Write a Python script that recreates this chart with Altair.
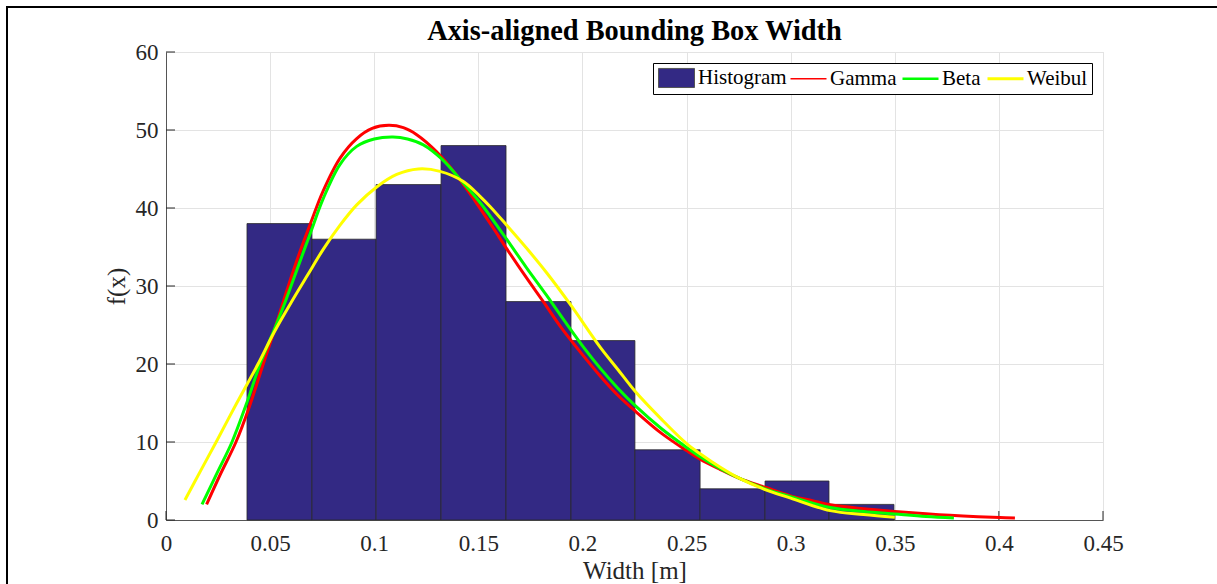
import altair as alt
import pandas as pd

# ---------------- data ----------------
bin_left = [0.0389, 0.0701, 0.1009, 0.1321, 0.1633, 0.1945, 0.2252, 0.2565, 0.2877, 0.3184]
bin_right = [0.0701, 0.1009, 0.1321, 0.1633, 0.1945, 0.2252, 0.2565, 0.2877, 0.3184, 0.3496]
bin_height = [38, 36, 43, 48, 28, 23, 9, 4, 5, 2]

gamma_x = [0.0195, 0.026, 0.0336, 0.040, 0.0467, 0.052, 0.0568, 0.063, 0.0695, 0.0755,
           0.0836, 0.0916, 0.099, 0.107, 0.114, 0.1204, 0.130, 0.1396, 0.1492, 0.157,
           0.1636, 0.173, 0.1812, 0.190, 0.200, 0.2084, 0.217, 0.2256, 0.238, 0.250,
           0.2565, 0.266, 0.2757, 0.2877, 0.300, 0.310, 0.319, 0.335, 0.350, 0.365,
           0.3765, 0.390, 0.4005, 0.4077]
gamma_y = [2.0, 5.8, 10.0, 14.5, 20.0, 24.3, 28.4, 33.4, 38.1, 42.2,
           46.4, 48.9, 50.2, 50.6, 50.3, 49.4, 47.2, 44.2, 40.6, 37.5,
           34.8, 31.1, 28.0, 24.6, 21.2, 18.5, 16.0, 13.9, 11.1, 8.9,
           7.8, 6.5, 5.3, 4.2, 3.1, 2.5, 1.95, 1.45, 1.1, 0.8,
           0.6, 0.43, 0.32, 0.26]

beta_x = [0.0173, 0.0245, 0.0317, 0.0385, 0.0452, 0.052, 0.058, 0.064, 0.0695, 0.0755,
          0.0836, 0.0916, 0.100, 0.109, 0.116, 0.1236, 0.1324, 0.1428, 0.1508, 0.1556,
          0.1636, 0.173, 0.1828, 0.192, 0.2004, 0.2084, 0.217, 0.2256, 0.238, 0.250,
          0.2565, 0.266, 0.2757, 0.2877, 0.300, 0.319, 0.335, 0.350, 0.365, 0.3784]
beta_y = [2.0, 6.0, 10.0, 14.8, 20.0, 24.4, 28.5, 32.9, 36.9, 41.2,
          45.6, 47.9, 48.85, 49.1, 48.85, 48.1, 46.3, 43.2, 40.7, 39.0,
          36.0, 32.4, 28.8, 25.3, 22.2, 19.5, 16.9, 14.6, 11.7, 9.3,
          8.1, 6.6, 5.3, 4.0, 3.0, 1.6, 1.1, 0.77, 0.45, 0.25]

weibull_x = [0.0091, 0.0166, 0.0241, 0.034, 0.0442, 0.052, 0.0608, 0.068, 0.0755, 0.0836,
             0.0916, 0.1012, 0.1108, 0.1212, 0.1316, 0.1428, 0.1508, 0.1556, 0.1636, 0.173,
             0.1828, 0.194, 0.2084, 0.217, 0.2256, 0.238, 0.250, 0.2565, 0.266, 0.2757,
             0.2877, 0.300, 0.319, 0.335, 0.350]
weibull_y = [2.56, 6.3, 10.0, 15.0, 20.0, 24.1, 28.2, 31.4, 34.7, 37.8,
             40.4, 42.7, 44.3, 45.0, 44.7, 43.4, 41.5, 40.2, 37.8, 34.9,
             31.7, 27.7, 22.2, 19.3, 16.4, 12.9, 9.8, 8.5, 6.8, 5.3,
             3.9, 2.8, 1.2, 0.7, 0.35]

x_ticks = [0, 0.05, 0.1, 0.15, 0.2, 0.25, 0.3, 0.35, 0.4, 0.45]
y_ticks = [0, 10, 20, 30, 40, 50, 60]

series_names = ["Histogram", "Gamma", "Beta", "Weibul"]
series_fill = ["#332984", "transparent", "transparent", "transparent"]
series_stroke = ["#555555", "#ff0000", "#00ff00", "#ffff00"]
series_width = [1, 3, 3, 3]
series_shape = ["M-1,-1.06H3V1.06H-1Z", "M-1,0H3", "M-1,0H3", "M-1,0H3"]

title_text = "Axis-aligned Bounding Box Width"
x_title = "Width [m]"
y_title = "f(x)"

# ---------------- chart ----------------
FONT = "Liberation Serif"
W, H = 937, 468

xscale = alt.Scale(domain=[0, 0.45], nice=False, zero=False)
yscale = alt.Scale(domain=[0, 60], nice=False)

x_axis = alt.Axis(values=x_ticks, format="~g", title=x_title, grid=True, ticks=False,
                  tickSize=0, labelPadding=12, labelFont=FONT, labelFontSize=23,
                  labelColor="#262626", titleFont=FONT, titleFontSize=25,
                  titleFontWeight="normal", titleColor="#262626",
                  titleBaseline="alphabetic", titleX=W / 2, titleY=58,
                  titleAlign="center", domainColor="#555555", gridColor="#e3e3e3",
                  labelFlush=False, labelOverlap=False)
y_axis = alt.Axis(values=y_ticks, title=y_title, grid=True, ticks=False, tickSize=0,
                  labelPadding=8, labelFont=FONT, labelFontSize=23,
                  labelColor="#262626", titleFont=FONT, titleFontSize=25,
                  titleFontWeight="normal", titleColor="#262626",
                  titleBaseline="alphabetic", titleX=-42, titleY=H / 2,
                  titleAlign="center", titleAngle=270, domainColor="#555555",
                  gridColor="#e3e3e3", labelFlush=False, labelOverlap=False)

hist_df = pd.DataFrame({"x0": bin_left, "x1": bin_right, "h": bin_height})
ytick_df = pd.DataFrame({"v": y_ticks})
xtick_df = pd.DataFrame({"v": x_ticks})

ytick_layer = alt.Chart(ytick_df).mark_rule(color="#262626", strokeWidth=1).encode(
    y=alt.Y("v:Q", scale=yscale, axis=y_axis),
    x=alt.value(0), x2=alt.value(9))
xtick_layer = alt.Chart(xtick_df).mark_rule(color="#262626", strokeWidth=1).encode(
    x=alt.X("v:Q", scale=xscale, axis=x_axis),
    y=alt.value(H), y2=alt.value(H - 9))

bars = alt.Chart(hist_df).mark_rect(fill="#332984", stroke="#2a2a2a", strokeWidth=0.8).encode(
    x=alt.X("x0:Q", scale=xscale, axis=x_axis),
    x2="x1:Q",
    y=alt.Y("h:Q", scale=yscale, axis=y_axis),
    y2=alt.datum(0),
)

def curve(xs, ys, color):
    df = pd.DataFrame({"x": xs, "y": ys})
    return alt.Chart(df).mark_line(color=color, strokeWidth=3, interpolate="catmull-rom").encode(
        x=alt.X("x:Q", scale=xscale, axis=x_axis),
        y=alt.Y("y:Q", scale=yscale, axis=y_axis),
        order="x:Q",
    )

gamma = curve(gamma_x, gamma_y, "#ff0000")
beta = curve(beta_x, beta_y, "#00ff00")
weibull = curve(weibull_x, weibull_y, "#ffff00")

legend = alt.Legend(orient="top-right", offset=11, direction="horizontal", title=None,
                    labelFont=FONT, labelFontSize=21, labelColor="black",
                    symbolSize=324, labelOffset=20, columnPadding=0, padding=4,
                    strokeColor="black", fillColor="white", symbolOpacity=1)
leg_df = pd.DataFrame({"series": series_names})
leg_layer = alt.Chart(leg_df).mark_point(clip=True, opacity=1).encode(
    x=alt.value(-300), y=alt.value(-300),
    fill=alt.Fill("series:N", scale=alt.Scale(domain=series_names, range=series_fill), legend=legend),
    stroke=alt.Stroke("series:N", scale=alt.Scale(domain=series_names, range=series_stroke), legend=legend),
    shape=alt.Shape("series:N", scale=alt.Scale(domain=series_names, range=series_shape), legend=legend),
    strokeWidth=alt.StrokeWidth("series:N", scale=alt.Scale(domain=series_names, range=series_width), legend=legend),
)

title_layer = alt.Chart(pd.DataFrame({"t": [title_text]})).mark_text(
    font=FONT, fontSize=28.4, fontWeight="bold", color="black", align="center",
    baseline="alphabetic", clip=False).encode(
    x=alt.value(W / 2), y=alt.value(-12), text="t:N")

frame = alt.Chart(pd.DataFrame({"a": [0]})).mark_rect(
    filled=False, stroke="black", strokeWidth=2, clip=False).encode(
    x=alt.value(-159), x2=alt.value(1200), y=alt.value(-45), y2=alt.value(700))

chart = alt.layer(xtick_layer, ytick_layer, bars, gamma, beta, weibull, leg_layer,
                  title_layer, frame).properties(
    width=W, height=H,
    autosize=alt.AutoSizeParams(type="none"),
    padding={"left": 166, "top": 52, "right": 114, "bottom": 64},
).configure_view(stroke=None).configure(background="white")

chart.save("out.html", embed_options={"renderer": "svg", "actions": False})
